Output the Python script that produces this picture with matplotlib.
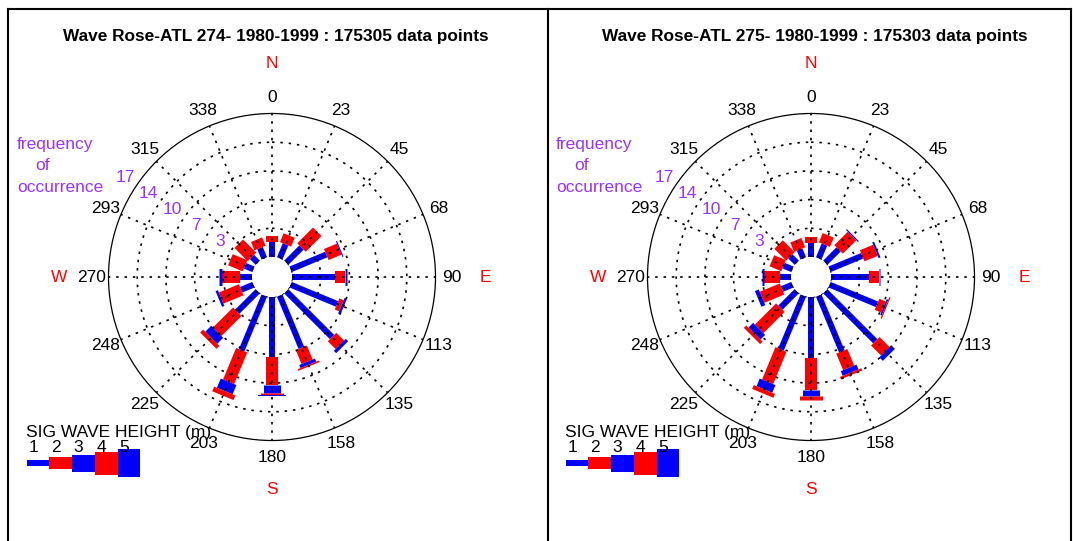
import numpy as np
import matplotlib
matplotlib.use('Agg')
import matplotlib.pyplot as plt
from matplotlib.lines import Line2D

plt.rcParams['font.family'] = ['Liberation Sans', 'DejaVu Sans']

# ---------------- data ----------------
directions = [0, 22.5, 45, 67.5, 90, 112.5, 135, 157.5, 180, 202.5, 225, 247.5, 270, 292.5, 315, 337.5]
direction_labels = ['0', '23', '45', '68', '90', '113', '135', '158', '180', '203',
                    '225', '248', '270', '293', '315', '338']
cardinal_labels = ['N', 'E', 'S', 'W']
cardinal_angles = [0, 90, 180, 270]
ring_values = [3.44, 6.88, 10.32, 13.76, 17.2]
ring_labels = ['3', '7', '10', '14', '17']
height_classes = ['1', '2', '3', '4', '5']

titles = ['Wave Rose-ATL 274- 1980-1999 : 175305 data points',
          'Wave Rose-ATL 275- 1980-1999 : 175303 data points']

# frequency of occurrence (%) per direction, for each significant wave height class
atl274_h1 = [1.76, 1.83, 2.60, 4.64, 5.20, 6.04, 7.78, 6.80, 7.16, 7.10, 3.50, 1.60, 1.40, 1.10, 1.00, 1.36]
atl274_h2 = [0.80, 1.15, 2.66, 1.68, 1.20, 0.56, 1.32, 1.80, 3.39, 4.10, 3.40, 2.60, 2.20, 1.90, 2.24, 1.08]
atl274_h3 = [0.00, 0.00, 0.00, 0.13, 0.20, 0.30, 0.40, 0.40, 1.00, 1.20, 1.00, 0.30, 0.30, 0.00, 0.00, 0.00]
atl274_h4 = [0.00, 0.00, 0.00, 0.00, 0.00, 0.00, 0.00, 0.20, 0.15, 0.60, 0.50, 0.00, 0.00, 0.00, 0.00, 0.00]
atl274_h5 = [0.00, 0.00, 0.00, 0.00, 0.00, 0.00, 0.00, 0.00, 0.15, 0.00, 0.00, 0.00, 0.00, 0.00, 0.00, 0.00]

atl275_h1 = [1.68, 1.80, 2.28, 4.24, 4.50, 6.16, 8.50, 7.24, 7.30, 7.00, 2.80, 1.36, 1.28, 1.16, 1.10, 1.16]
atl275_h2 = [0.72, 1.20, 2.28, 1.72, 1.20, 0.84, 1.70, 2.16, 3.80, 4.20, 3.60, 2.60, 2.00, 1.52, 2.00, 1.20]
atl275_h3 = [0.00, 0.00, 0.14, 0.24, 0.20, 0.20, 0.60, 0.60, 0.80, 1.00, 0.80, 0.50, 0.22, 0.00, 0.00, 0.00]
atl275_h4 = [0.00, 0.00, 0.00, 0.00, 0.00, 0.15, 0.00, 0.30, 0.40, 0.50, 0.40, 0.00, 0.00, 0.00, 0.00, 0.00]
atl275_h5 = [0.00, 0.00, 0.00, 0.00, 0.00, 0.00, 0.00, 0.00, 0.00, 0.00, 0.00, 0.00, 0.00, 0.00, 0.00, 0.00]

roses = [
    [atl274_h1, atl274_h2, atl274_h3, atl274_h4, atl274_h5],
    [atl275_h1, atl275_h2, atl275_h3, atl275_h4, atl275_h5],
]

# ---------------- style ----------------
W, H = 1073, 541
DPI = 100
RMAX = 17.2
RORIG = -2.4
R_PX = 163.5
PX_PER_UNIT = R_PX / (RMAX - RORIG)
class_colors = ['#0000ff', '#ff0000', '#0000ff', '#ff0000', '#0000ff']
class_width_px = [6, 12, 17, 23, 28]
class_width_pt = [w * 72.0 / DPI for w in class_width_px]
PURPLE = '#9933ff'
FS = 12.5
dotted = (0, (1.5, 3.5))
GRID_LW = 1.2

panel_dx = [0, 539]
center = (272, 277)

fig = plt.figure(figsize=(W / DPI, H / DPI), dpi=DPI)

# overlay axes in pixel coordinates for legend and free text
ov = fig.add_axes([0, 0, 1, 1])
ov.set_xlim(0, W)
ov.set_ylim(H, 0)
ov.axis('off')


def px_to_r(px):
    return px / PX_PER_UNIT + RORIG


for p, classes in enumerate(roses):
    dx = panel_dx[p]
    cx, cy = center[0] + dx, center[1]
    ax = fig.add_axes([(cx - R_PX) / W, (H - cy - R_PX) / H, 2 * R_PX / W, 2 * R_PX / H],
                      projection='polar')
    ax.set_theta_zero_location('N')
    ax.set_theta_direction(-1)
    ax.set_ylim(0, RMAX)
    ax.set_rorigin(RORIG)
    ax.grid(False)
    ax.set_xticks([])
    ax.set_yticks([])
    ax.spines['polar'].set_linewidth(0.9)
    ax.spines['polar'].set_color('black')
    ax.spines['inner'].set_linewidth(0)

    th_all = np.linspace(0, 2 * np.pi, 721)
    # inner circle
    ax.plot(th_all, np.zeros_like(th_all), color='black', lw=GRID_LW, ls=dotted, zorder=5)
    # rings
    for rv in ring_values[:-1]:
        ax.plot(th_all, np.full_like(th_all, rv), color='black', lw=GRID_LW, ls=dotted, zorder=5)
    # radial dotted lines
    for d in directions:
        t = np.deg2rad(d)
        ax.plot([t, t], [0, RMAX], color='black', lw=GRID_LW, ls=dotted, zorder=5)

    # spokes: stacked segments per wave-height class
    arr = np.array(classes)
    cum = np.vstack([np.zeros(len(directions)), np.cumsum(arr, axis=0)])
    for k in range(5):
        for i, d in enumerate(directions):
            r0, r1 = cum[k, i], cum[k + 1, i]
            if r1 - r0 <= 0:
                continue
            t = np.deg2rad(d)
            ax.plot([t, t], [r0, r1], color=class_colors[k], lw=class_width_pt[k],
                    solid_capstyle='butt', zorder=3)

    # direction labels
    for d, lab in zip(directions, direction_labels):
        ax.text(np.deg2rad(d), px_to_r(180), lab, ha='center', va='center',
                fontsize=FS, color='black', clip_on=False)
    for d, lab in zip(cardinal_angles, cardinal_labels):
        ax.text(np.deg2rad(d), px_to_r(213), lab, ha='center', va='center',
                fontsize=FS, color='#ff0000', clip_on=False)
    # ring labels
    for rv, lab in zip(ring_values, ring_labels):
        ax.text(np.deg2rad(304), rv + 14 / PX_PER_UNIT, lab, ha='center', va='center',
                fontsize=FS, color=PURPLE, clip_on=False)

    # title
    ov.text(276 + dx, 37, titles[p], ha='center', va='center', fontsize=12.4,
            fontweight='bold', color='black')
    # frequency of occurrence
    ov.text(17 + dx, 144, 'frequency', ha='left', va='center', fontsize=FS, color=PURPLE)
    ov.text(35 + dx, 166, 'of', ha='left', va='center', fontsize=FS, color=PURPLE)
    ov.text(17 + dx, 187, 'occurrence', ha='left', va='center', fontsize=FS, color=PURPLE)

    # legend
    ov.text(26 + dx, 432, 'SIG WAVE HEIGHT (m)', ha='left', va='center', fontsize=FS)
    seg = 22.7
    x0 = 26.7 + dx
    xs = [x0 + seg * (k + 0.5) for k in range(5)]
    ov.bar(xs, class_width_px, width=seg, bottom=[463 - w / 2 for w in class_width_px],
           color=class_colors, edgecolor='none')
    for k, lab in enumerate(height_classes):
        ov.text(xs[k] - 5, 448, lab, ha='center', va='center', fontsize=FS)

# frame
lw = 1.5
fig.add_artist(Line2D([8 / W, 8 / W], [0, 1 - 9 / H], color='black', lw=lw))
fig.add_artist(Line2D([8 / W, 1071 / W], [1 - 9 / H, 1 - 9 / H], color='black', lw=lw))
fig.add_artist(Line2D([548 / W, 548 / W], [0, 1 - 9 / H], color='black', lw=lw))
fig.add_artist(Line2D([1071 / W, 1071 / W], [0, 1 - 9 / H], color='black', lw=lw))

fig.savefig('out.png', dpi=DPI)
